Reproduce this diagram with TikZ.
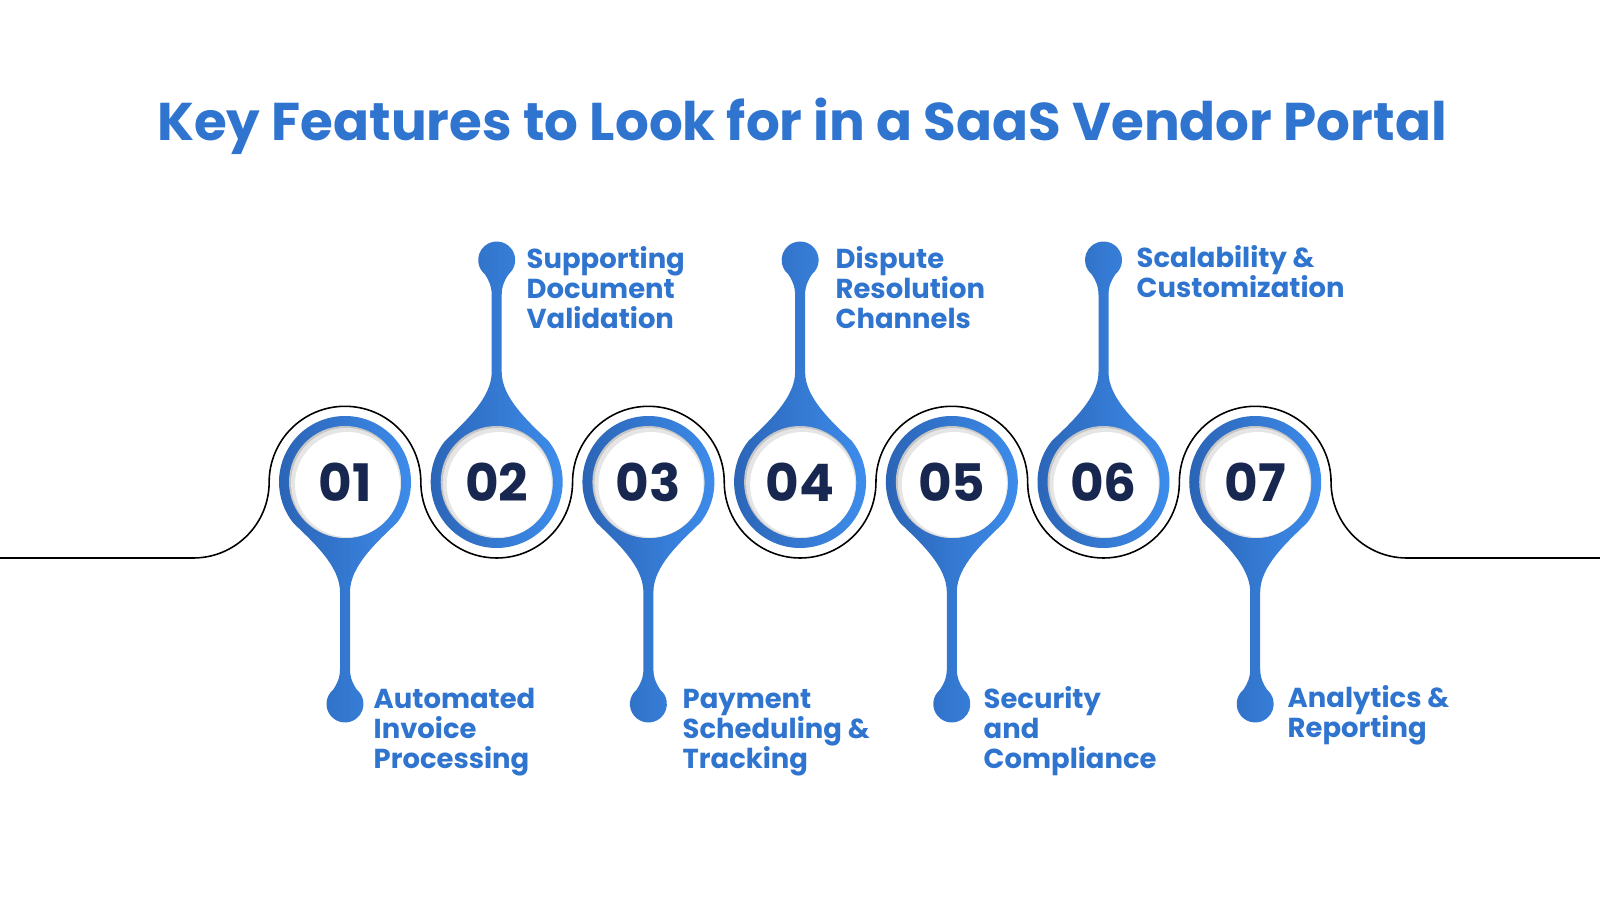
\documentclass[tikz,border=0pt]{standalone}
\usepackage{fontspec}
\setmainfont{Poppins}
\usetikzlibrary{positioning}
\definecolor{titleblue}{HTML}{2F74CF}
\definecolor{pindark}{HTML}{2A63B4}
\definecolor{pinlight}{HTML}{3E8EEE}
\definecolor{numnavy}{HTML}{18274F}

\tikzset{
  droppin/.pic={
    \shade[left color=pindark, right color=pinlight]
      (-51.8,-40.9) .. controls (-32,-60) and (-5,-84) .. (-5,-110)
      -- (-5,-187) .. controls (-5,-196) and (-8,-202) .. (-11.9,-207.8)
      arc[start angle=130, end angle=410, radius=18.5]
      .. controls (8,-202) and (5,-196) .. (5,-187)
      -- (5,-110) .. controls (5,-84) and (32,-60) .. (51.8,-40.9)
      arc[start angle=-38.3, end angle=218.3, radius=66] -- cycle;
  }
}

\begin{document}
\begin{tikzpicture}[
  x=0.01cm, y=0.01cm,
  heading/.style={font=\fontsize{15.1}{18}\selectfont\bfseries, text=titleblue, inner sep=0pt},
  numtxt/.style={font=\fontsize{14.7}{16}\selectfont\bfseries, text=numnavy, inner sep=0pt},
  feature/.style={font=\fontsize{7.8}{8.6}\selectfont\bfseries, text=titleblue, align=left, inner sep=0pt, anchor=base west},
  wave/.style={line width=0.45pt, black}
]
\useasboundingbox[fill=white] (0,0) rectangle (1600,900);

\node[heading, anchor=base] (title) at (802,759) {Key Features to Look for in a SaaS Vendor Portal};

% wavy line round the circles
\coordinate (lstart) at (0,342);
\coordinate (lend) at (1600,342);
\draw[wave] (lstart) -- ++(193.3,0) arc[start angle=-90, end angle=0, radius=75.85]
  \foreach \k in {1,2,3}{
    arc[start angle=180, end angle=0, radius=75.85]
    arc[start angle=180, end angle=360, radius=75.85]
  }
  arc[start angle=180, end angle=0, radius=75.85]
  arc[start angle=180, end angle=270, radius=75.85] -- (lend);

% pins and numbers
\foreach \i/\num in {1/01,2/02,3/03,4/04,5/05,6/06,7/07}{
  \pgfmathsetmacro{\cx}{345+(\i-1)*151.7}
  \ifodd\i
    \pic at (\cx,418) {droppin};
  \else
    \pic[rotate=180] at (\cx,418) {droppin};
  \fi
  \fill[gray!45] (\cx,418) circle[radius=56];
  \fill[gray!20] (\cx+1,417) circle[radius=55];
  \fill[white] (\cx+2.5,415.5) circle[radius=52.5];
  \node[numtxt] (n\i) at (\cx,418) {\num};
}

% labels (base = last line)
\node[feature] (t1) at (373,131) {Automated\\Invoice\\Processing};
\node[feature] (t2) at (526,571) {Supporting\\Document\\Validation};
\node[feature] (t3) at (682,131) {Payment\\Scheduling \&\\Tracking};
\node[feature] (t4) at (835,571) {Dispute\\Resolution\\Channels};
\node[feature] (t5) at (983,131) {Security\\and\\Compliance};
\node[feature] (t6) at (1136,602) {Scalability \&\\Customization};
\node[feature] (t7) at (1287,162) {Analytics \&\\Reporting};
\end{tikzpicture}
\end{document}
